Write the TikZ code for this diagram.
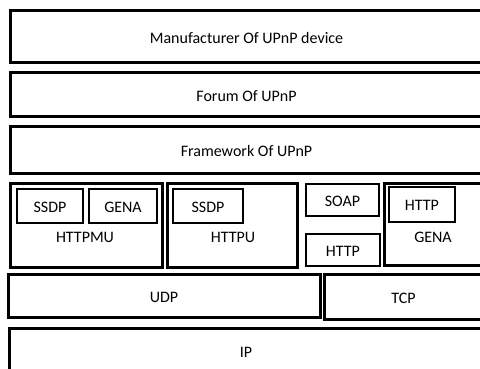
\documentclass[tikz,border=0pt]{standalone}
\usepackage{fontspec}
\setmainfont{Carlito}
\tikzset{
  layerbox/.style={draw, line width=3pt, inner sep=0pt, text height=13pt,
    text depth=0pt, font=\fontsize{16}{19}\selectfont},
  protobox/.style={draw, line width=1.6pt, inner sep=0pt, text height=13pt,
    text depth=0pt, font=\fontsize{16}{19}\selectfont},
  boxname/.style={inner sep=0pt, text height=13pt, text depth=0pt,
    font=\fontsize{16}{19}\selectfont},
}

\begin{document}
\begin{tikzpicture}[x=1pt, y=-1pt]

  \path[use as bounding box, clip] (0,0) rectangle (480,369);

  % ---- Upper layers --------------------------------------------------------
  \node[layerbox, minimum width=473pt, minimum height=52pt] (manu)  at (246.5,37) {Manufacturer Of UPnP device};
  \node[layerbox, minimum width=473pt, minimum height=44pt] (forum) at (246.5,95) {Forum Of UPnP};
  \node[layerbox, minimum width=473pt, minimum height=46pt] (frame) at (246.5,150) {Framework Of UPnP};

  % ---- HTTPMU / HTTPU ------------------------------------------------------
  \node[layerbox, minimum width=152pt, minimum height=84pt] (httpmu) at (86,225) {};
  \node[protobox, minimum width=66pt, minimum height=34pt] (ssdpa) at (50,206) {SSDP};
  \node[protobox, minimum width=68pt, minimum height=34pt] (genaa) at (123,206) {GENA};
  \node[boxname] (httpmuname) at (85,236) {HTTPMU};

  \node[layerbox, minimum width=130pt, minimum height=84pt] (httpu) at (232,225) {};
  \node[protobox, minimum width=70pt, minimum height=34pt] (ssdpb) at (208,206) {SSDP};
  \node[boxname] (httpuname) at (233,236) {HTTPU};

  % ---- SOAP / HTTP / GENA --------------------------------------------------
  \node[protobox, minimum width=73pt, minimum height=32pt] (soap)  at (342.5,200) {SOAP};
  \node[protobox, minimum width=74pt, minimum height=32pt] (httpa) at (343,250) {HTTP};

  \node[layerbox, minimum width=99pt, minimum height=82pt] (genab) at (433.5,224) {};
  \node[protobox, minimum width=66pt, minimum height=35pt] (httpb) at (422,204.5) {HTTP};
  \node[boxname] (genaname) at (433,235.5) {GENA};

  % ---- Transport and network -----------------------------------------------
  \node[layerbox, minimum width=312pt, minimum height=43pt] (udp) at (164,295.5) {UDP};
  \node[layerbox, minimum width=159pt, minimum height=45pt] (tcp) at (403.5,296.5) {TCP};
  \node[layerbox, minimum width=474pt, minimum height=46pt] (ip)  at (246,351) {IP};

\end{tikzpicture}
\end{document}
